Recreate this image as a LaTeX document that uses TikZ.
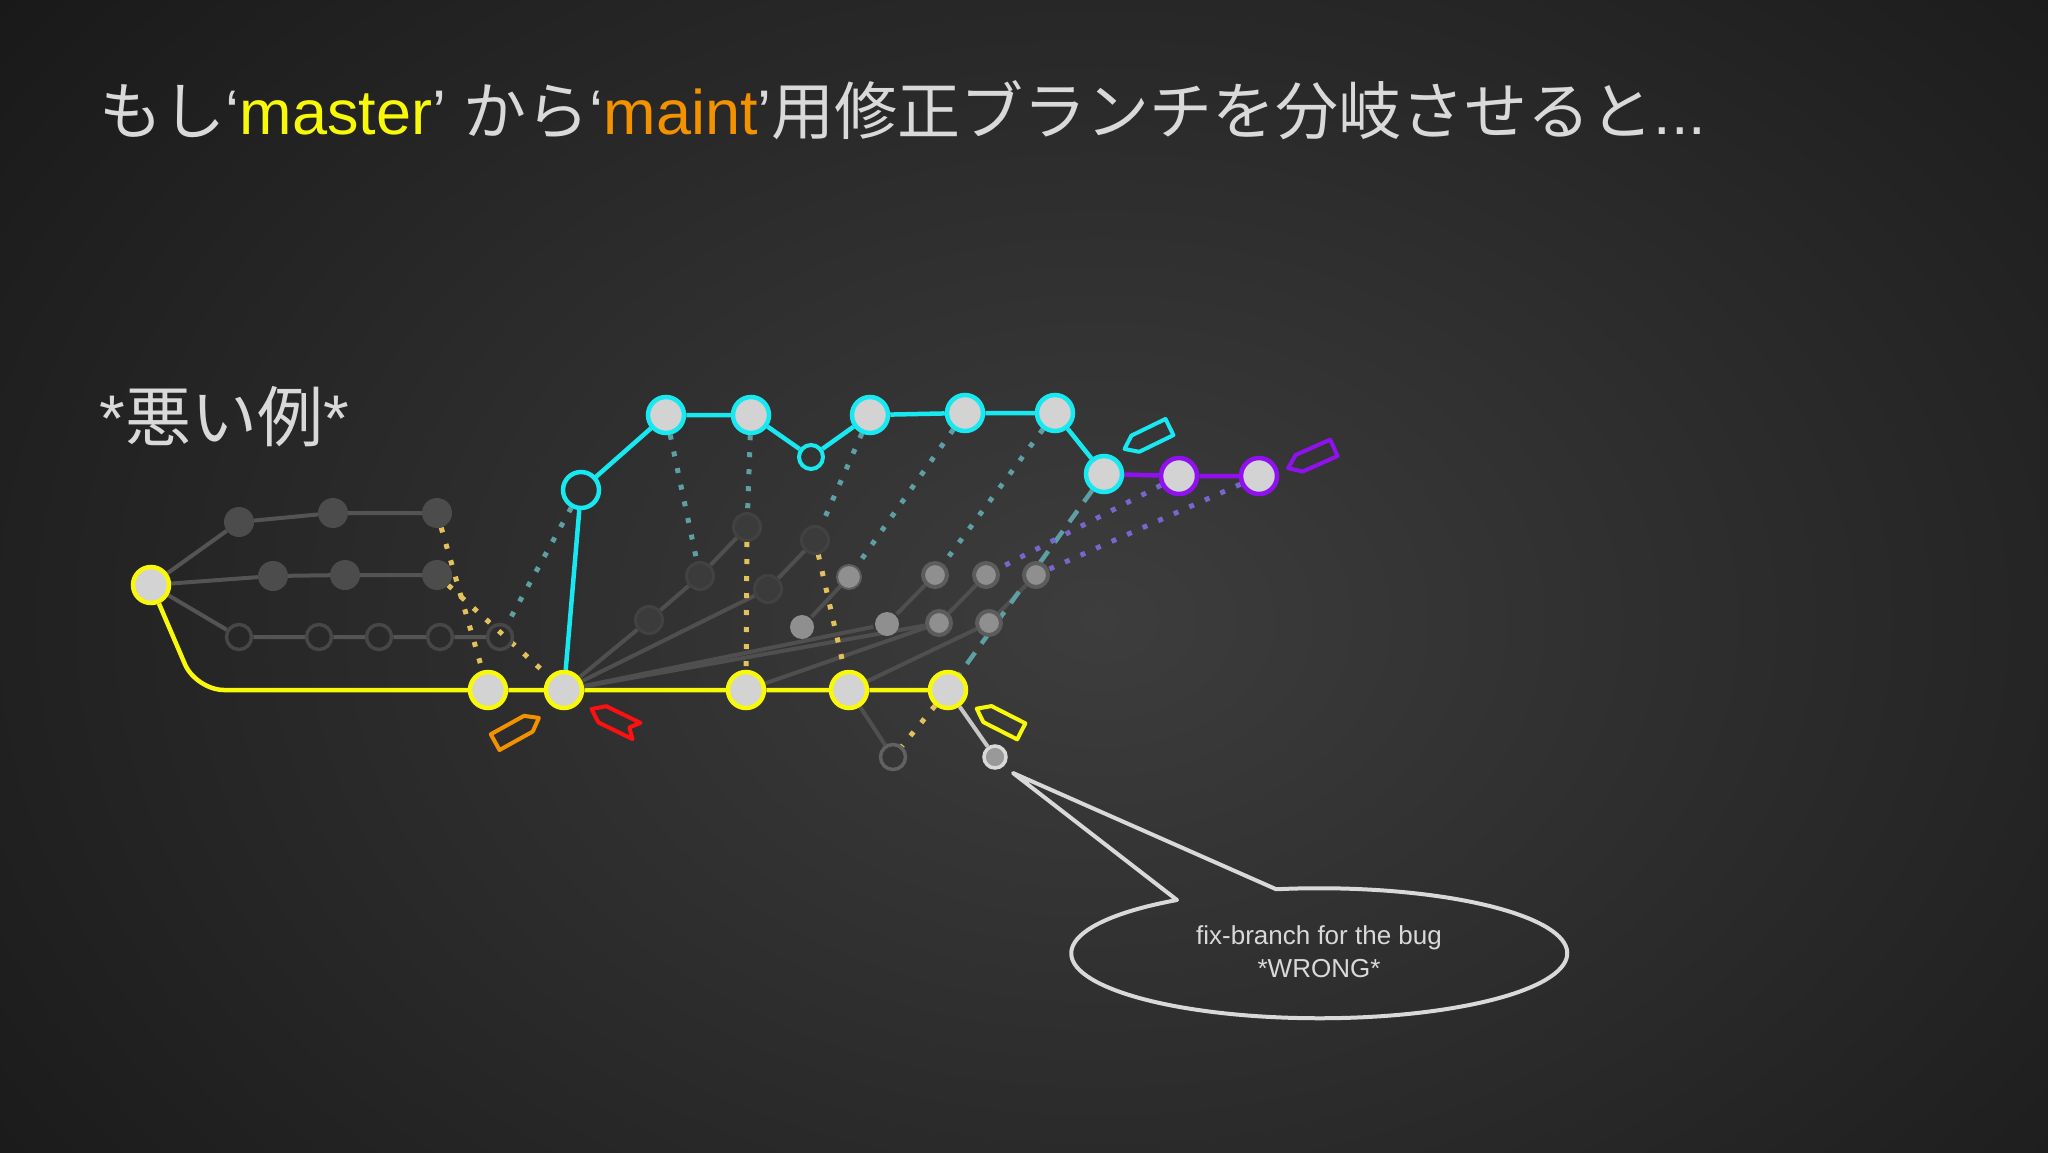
\documentclass[tikz,border=0pt]{standalone}
\usepackage{fontspec}
\setmainfont{Liberation Sans}
\newfontfamily\cjk{Noto Sans CJK JP}
\usetikzlibrary{backgrounds}

\definecolor{yel}{HTML}{F8F80A}
\definecolor{cyn}{HTML}{18E8F0}
\definecolor{pur}{HTML}{9010F0}
\definecolor{org}{HTML}{F39200}
\definecolor{rd}{HTML}{FF1010}
\definecolor{txt}{HTML}{D9D9D9}
\definecolor{nfill}{HTML}{D3D3D3}
\definecolor{bgin}{HTML}{3D3D3D}
\definecolor{bgout}{HTML}{080808}

\tikzset{
  ynode/.style={circle,inner sep=0,minimum size=36pt,fill=nfill,draw=yel,line width=4.5pt},
  cnode/.style={ynode,draw=cyn},
  pnode/.style={ynode,draw=pur},
  chole/.style={circle,inner sep=0,minimum size=36pt,draw=cyn,line width=4.5pt},
  csmall/.style={chole,minimum size=24pt,line width=4pt},
  dnode/.style={circle,inner sep=0,minimum size=30pt,fill=black!70!white},
  hnode/.style={circle,inner sep=0,minimum size=25pt,draw=black!72!white,line width=3.5pt},
  gnode/.style={circle,inner sep=0,minimum size=27pt,fill=black!77!white,draw=black!74!white,line width=3pt},
  lnode/.style={circle,inner sep=0,minimum size=24pt,fill=black!44!white,draw=black!64!white,line width=4pt},
  fnode/.style={circle,inner sep=0,minimum size=22pt,fill=black!40!white,draw=txt,line width=3.5pt},
  glink/.style={draw=black!67!white,line width=4pt},
  flink/.style={draw=black!69!white,line width=4pt},
  fixlink/.style={draw=black!22!white,line width=4pt},
  ylink/.style={draw=yel,line width=4.5pt},
  clink/.style={draw=cyn,line width=4.5pt},
  plink/.style={draw=pur,line width=4.5pt},
  ydot/.style={draw={rgb,255:red,227;green,193;blue,92},line width=5pt,dash pattern=on 5pt off 12pt},
  tdot/.style={draw={rgb,255:red,94;green,159;blue,163},line width=5pt,dash pattern=on 5pt off 12pt},
  pdot/.style={draw={rgb,255:red,119;green,102;blue,204},line width=5pt,dash pattern=on 5pt off 12pt},
  tdash/.style={draw={rgb,255:red,94;green,159;blue,163},line width=4.5pt,dash pattern=on 14pt off 11pt},
  tagline/.style={line width=4pt,line join=round},
  bubbleline/.style={draw=txt,line width=4pt,line join=round},
  brtag/.pic={\draw[pic actions] (-25,-9)--(13,-9)--(25,0)--(13,9)--(-25,9)--cycle;},
  notchtag/.pic={\draw[pic actions] (-25,-9)--(13,-9)--(25,0)--(13,9)--(-25,9)--(-17,0)--cycle;}
}

\begin{document}
\begin{tikzpicture}[x=1pt,y=-1pt]
  \useasboundingbox (0,0) rectangle (2048,1152);

  \node[anchor=base west,text=txt,font=\cjk\fontsize{63}{72}\selectfont] (title) at (96,134)
    {もし\rmfamily‘\textcolor{yel}{master}’ \cjk から\rmfamily‘\textcolor{org}{maint}’\cjk 用修正ブランチを分岐させると\rmfamily...};
  \node[anchor=base west,text=txt,font=\cjk\fontsize{66}{72}\selectfont] (bad) at (96,441)
    {\rmfamily*\cjk 悪い例\rmfamily*};

  \node[ynode] (Y0) at (151,585) {};
  \node[dnode] (T1) at (239,522) {};
  \node[dnode] (T2) at (333,513) {};
  \node[dnode] (T3) at (437,513) {};
  \node[dnode] (M1) at (273,576) {};
  \node[dnode] (M2) at (345,575) {};
  \node[dnode] (M3) at (437,575) {};
  \node[hnode] (B1) at (239,637) {};
  \node[hnode] (B2) at (319,637) {};
  \node[hnode] (B3) at (379,637) {};
  \node[hnode] (B4) at (440,637) {};
  \node[hnode] (B5) at (500,637) {};

  \node[ynode] (Y1) at (488,690) {};
  \node[ynode] (Y2) at (564,690) {};
  \node[ynode] (Y3) at (746,690) {};
  \node[ynode] (Y4) at (849,690) {};
  \node[ynode] (Y5) at (948,690) {};

  \node[chole] (C0) at (581,490) {};
  \node[cnode] (C1) at (666,415) {};
  \node[cnode] (C2) at (751,415) {};
  \node[csmall] (Cs) at (811,457) {};
  \node[cnode] (C3) at (870,415) {};
  \node[cnode] (C4) at (965,413) {};
  \node[cnode] (C5) at (1055,413) {};
  \node[cnode] (C6) at (1104,474) {};
  \node[pnode] (P1) at (1179,476) {};
  \node[pnode] (P2) at (1259,476) {};

  \node[gnode] (g1) at (649,620) {};
  \node[gnode] (g2) at (700,576) {};
  \node[gnode] (g3) at (747,527) {};
  \node[gnode] (g4) at (768,589) {};
  \node[gnode] (g5) at (815,540) {};

  \node[lnode,draw=none] (L1) at (802,627) {};
  \node[lnode,line width=2pt] (L2) at (849,577) {};
  \node[lnode,draw=none] (L3) at (887,624) {};
  \node[lnode] (L4) at (935,575) {};
  \node[lnode] (L5) at (939,623) {};
  \node[lnode] (L6) at (986,575) {};
  \node[lnode] (L7) at (989,623) {};
  \node[lnode] (L8) at (1036,575) {};

  \node[hnode,draw=black!62!white] (H) at (893,757) {};
  \node[fnode] (F) at (995,757) {};

  \pic[tagline,draw=org,rotate=29] at (517,730) {brtag};
  \pic[tagline,draw=rd,rotate=154] at (614,720) {notchtag};
  \pic[tagline,draw=yel,rotate=153] at (999,720) {brtag};
  \pic[tagline,draw=cyn,rotate=206] at (1147,438) {brtag};
  \pic[tagline,draw=pur,rotate=204] at (1311,458) {brtag};

  \node[text=txt,font=\fontsize{26}{33}\selectfont,align=center] (bubble) at (1319,952)
    {fix-branch for the bug\\*WRONG*};
  \coordinate (tip) at (1013,773);
  \draw[bubbleline] (tip) -- (1177,900)
    arc[start angle=125,end angle=460,x radius=248pt,y radius=65pt] -- cycle;

  \begin{pgfonlayer}{background}
    \begin{scope}
      \clip (0,0) rectangle (2048,1152);
      \shade[inner color=bgin,outer color=bgout] (1100,620) ellipse (2050pt and 1500pt);
    \end{scope}
    \draw[glink] (Y0) -- (T1) -- (T2) -- (T3);
    \draw[glink] (Y0) -- (M1) -- (M2) -- (M3);
    \draw[glink] (Y0) -- (B1) -- (B2) -- (B3) -- (B4) -- (B5);
    \draw[ylink,rounded corners=28pt] (Y0) -- (196,690) -- (Y1) -- (Y2) -- (Y3) -- (Y4) -- (Y5);
    \draw[clink] (Y2) -- (C0) -- (C1) -- (C2) -- (Cs) -- (C3) -- (C4) -- (C5) -- (C6);
    \draw[plink] (C6) -- (P1) -- (P2);

    \draw[flink] (Y2) -- (g1) -- (g2) -- (g3);
    \draw[flink] (Y2) -- (g4) -- (g5);
    \draw[flink] (L1) -- (L2);
    \draw[flink] (Y2) -- (L3) -- (L4);
    \draw[flink] (Y2) -- (L5) -- (L6);
    \draw[flink] (Y3) -- (L5);
    \draw[flink] (Y4) -- (L7) -- (L8);
    \draw[flink] (Y4) -- (H);
    \draw[fixlink] (Y5) -- (F);

    \draw[ydot] (T3) -- (Y1);
    \draw[ydot] (M3) -- (Y2);
    \draw[ydot] (g3) -- (Y3);
    \draw[ydot] (g5) -- (Y4);
    \draw[ydot] (Y5) -- (H);
    \draw[tdot] (C0) -- (B5);
    \draw[tdot] (C1) -- (g2);
    \draw[tdot] (C2) -- (g3);
    \draw[tdot] (C3) -- (g5);
    \draw[tdot] (C4) -- (L2);
    \draw[tdot] (C5) -- (L4);
    \draw[tdash] (C6) -- (Y5);
    \draw[pdot] (P1) -- (L6);
    \draw[pdot] (P2) -- (L8);
  \end{pgfonlayer}
\end{tikzpicture}
\end{document}
